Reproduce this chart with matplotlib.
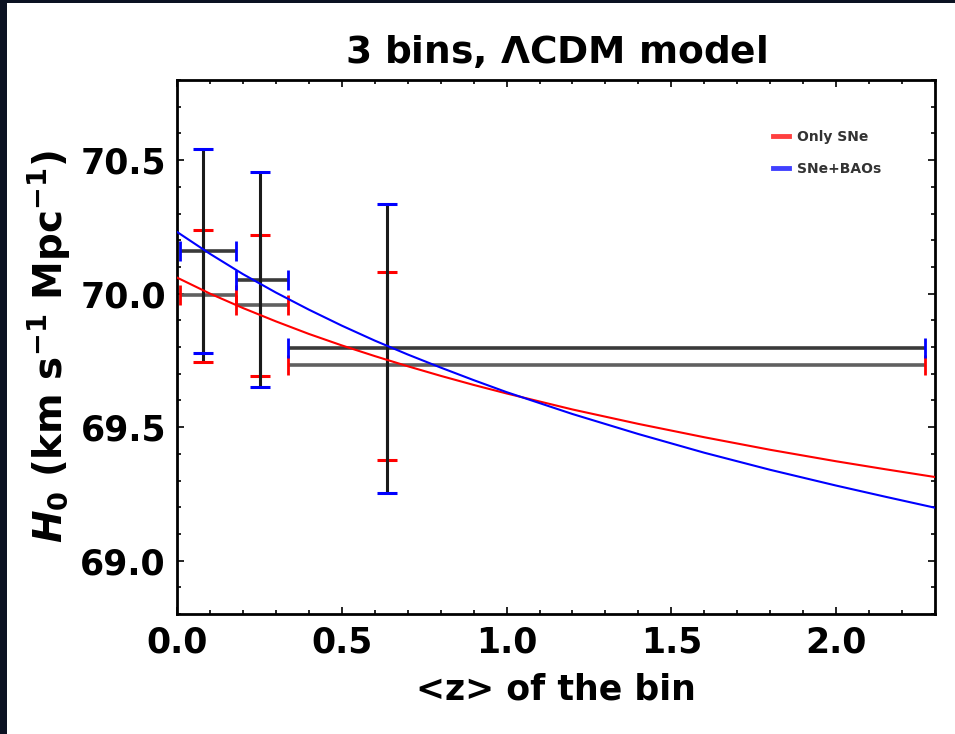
import matplotlib
matplotlib.use("Agg")
import matplotlib.pyplot as plt
from matplotlib.patches import Rectangle
from matplotlib.ticker import MultipleLocator

# ---- data ----
bin_z = [0.080, 0.251, 0.638]
bin_lo = [0.010, 0.178, 0.337]
bin_hi = [0.178, 0.337, 2.270]

sne_h0 = [69.996, 69.956, 69.731]
sne_up = [70.240, 70.219, 70.081]
sne_dn = [69.745, 69.690, 69.375]

bao_h0 = [70.160, 70.052, 69.796]
bao_up = [70.540, 70.455, 70.334]
bao_dn = [69.779, 69.650, 69.255]

curve_z = [0.0, 0.1, 0.2, 0.3, 0.4, 0.5, 0.6, 0.7, 0.8, 0.9, 1.0,
           1.2, 1.4, 1.6, 1.8, 2.0, 2.15, 2.3]
curve_sne = [70.060, 70.000, 69.946, 69.896, 69.849, 69.806, 69.766, 69.728, 69.692,
             69.658, 69.626, 69.566, 69.512, 69.462, 69.415, 69.372, 69.342, 69.313]
curve_bao = [70.231, 70.149, 70.073, 70.004, 69.940, 69.880, 69.824, 69.772, 69.723,
             69.676, 69.631, 69.549, 69.474, 69.404, 69.340, 69.281, 69.239, 69.198]

labels = ["Only SNe", "SNe+BAOs"]

plt.rcParams['font.family'] = ['DejaVu Sans']
plt.rcParams['mathtext.fontset'] = 'custom'
plt.rcParams['mathtext.rm'] = 'DejaVu Sans:bold'
plt.rcParams['mathtext.it'] = 'DejaVu Sans:bold:italic'
plt.rcParams['mathtext.bf'] = 'DejaVu Sans:bold'

fig = plt.figure(figsize=(9.55, 7.34), dpi=100)
fig.patch.set_facecolor('white')
W, H = 955, 734
dark = '#0b1222'
fig.patches.append(Rectangle((0, 0), 7 / W, 1, transform=fig.transFigure,
                             facecolor=dark, edgecolor='none', zorder=-10))
fig.patches.append(Rectangle((0, 1 - 3 / H), 1, 3 / H, transform=fig.transFigure,
                             facecolor=dark, edgecolor='none', zorder=-10))

ax = fig.add_axes([177 / W, 1 - 614 / H, (935 - 177) / W, (614 - 80) / H])

# curves
ax.plot(curve_z, curve_sne, color='red', lw=1.5, zorder=3, label=labels[0])
ax.plot(curve_z, curve_bao, color='blue', lw=1.5, zorder=3, label=labels[1])


def draw_series(h0, up, dn, col, hcol):
    xl = [z - lo for z, lo in zip(bin_z, bin_lo)]
    xh = [hi - z for z, hi in zip(bin_z, bin_hi)]
    yl = [v - d for v, d in zip(h0, dn)]
    yh = [u - v for v, u in zip(h0, up)]
    # horizontal bars
    eb = ax.errorbar(bin_z, h0, xerr=[xl, xh], fmt='none', ecolor=hcol, elinewidth=2.6,
                     capsize=7.5, capthick=2.0, zorder=2)
    for c in eb[1]:
        c.set_color(col)
        c.set_markeredgecolor(col)
    # vertical bars
    eb = ax.errorbar(bin_z, h0, yerr=[yl, yh], fmt='none', ecolor='#1a1a1a', elinewidth=2.2,
                     capsize=7.0, capthick=2.2, zorder=2)
    for c in eb[1]:
        c.set_color(col)
        c.set_markeredgecolor(col)


draw_series(sne_h0, sne_up, sne_dn, 'red', '#606060')
draw_series(bao_h0, bao_up, bao_dn, 'blue', '#3a3a3a')

ax.set_xlim(0, 2.3)
ax.set_ylim(68.8, 70.8)
ax.xaxis.set_major_locator(MultipleLocator(0.5))
ax.xaxis.set_minor_locator(MultipleLocator(0.1))
ax.yaxis.set_major_locator(MultipleLocator(0.5))
ax.yaxis.set_minor_locator(MultipleLocator(0.1))
ax.tick_params(which='both', direction='in', top=True, right=True, width=1.2)
ax.tick_params(which='major', length=5, labelsize=25, pad=8)
ax.tick_params(which='minor', length=3)
for lab in ax.get_xticklabels() + ax.get_yticklabels():
    lab.set_fontweight('bold')
for s in ax.spines.values():
    s.set_linewidth(2.0)

ax.set_title(r'3 bins, $\Lambda$CDM model', fontsize=27, fontweight='bold', pad=12)
ax.set_xlabel('<z> of the bin', fontsize=25, fontweight='bold', labelpad=10)
ax.set_ylabel(r'$H_0$ (km s$^{-1}$ Mpc$^{-1}$)', fontsize=28, fontweight='bold', labelpad=6)

leg = ax.legend(loc='upper left', bbox_to_anchor=(0.777, 0.92), frameon=False,
                prop={'size': 10, 'weight': 'bold'}, handlelength=1.15,
                handletextpad=0.6, labelspacing=1.3, borderpad=0)
for t in leg.get_texts():
    t.set_color('#333333')
for ln in leg.get_lines():
    ln.set_linewidth(3.5)
    ln.set_alpha(0.75)

fig.savefig('out.png', dpi=100, facecolor=fig.get_facecolor())
